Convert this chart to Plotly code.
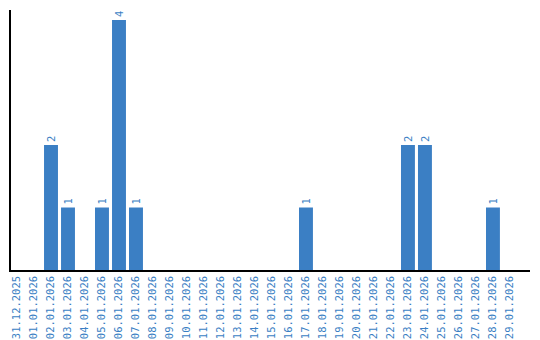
import plotly.graph_objects as go

dates = ["31.12.2025"] + [f"{d:02d}.01.2026" for d in range(1, 30)]
counts = [0, 0, 2, 1, 0, 1, 4, 1, 0, 0, 0, 0, 0, 0, 0, 0, 0, 1, 0, 0, 0, 0, 0, 2, 2, 0, 0, 0, 1, 0]
labels = [str(c) if c > 0 else "" for c in counts]

BLUE = "#3b7fc4"
FONT = "DejaVu Sans Mono"

fig = go.Figure(go.Bar(
    x=dates, y=counts, text=labels, textposition="outside", textangle=-90,
    textfont=dict(family=FONT, size=10.5, color=BLUE),
    marker=dict(color=BLUE, line=dict(width=0)),
    cliponaxis=False,
))
fig.update_layout(
    width=540, height=340,
    margin=dict(l=11, r=10, t=10, b=70),
    plot_bgcolor="white", paper_bgcolor="white",
    bargap=0.18, showlegend=False,
    xaxis=dict(type="category", range=[-0.353, 30.18], tickangle=-90, showline=True,
               linecolor="black", linewidth=1.5, automargin=False,
               ticks="", showgrid=False, tickfont=dict(family=FONT, size=10.5, color=BLUE)),
    yaxis=dict(range=[0, 4.16], showline=True, linecolor="black", linewidth=1.5, automargin=False,
               showticklabels=False, ticks="", showgrid=False, zeroline=False),
)
fig.write_html("out.html")
